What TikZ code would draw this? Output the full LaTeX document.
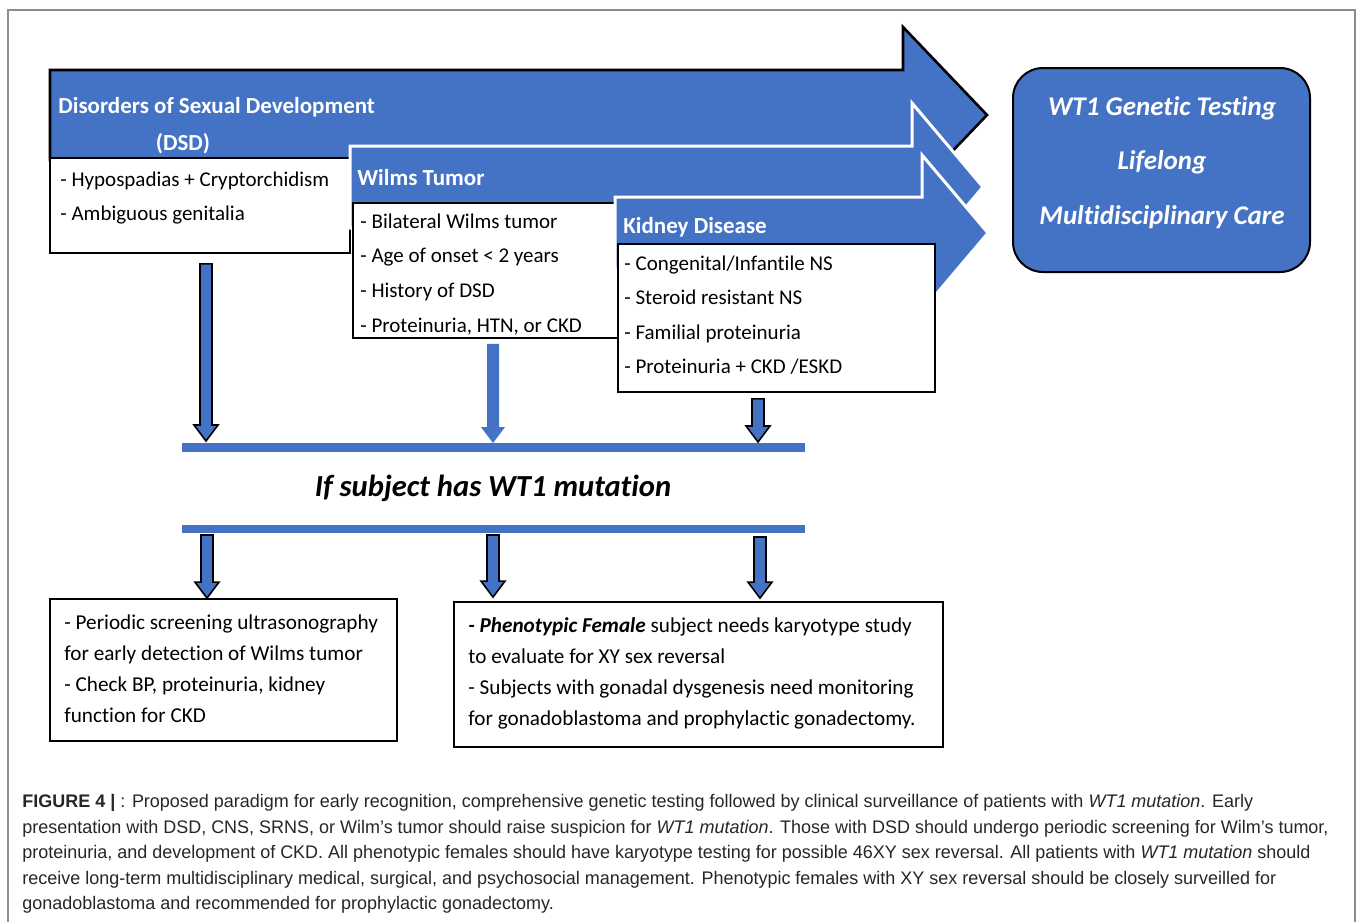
\documentclass[tikz,border=0pt]{standalone}
\usepackage{fontspec}
\setmainfont{Carlito}[Ligatures=NoCommon]
\newfontfamily\capfont[FakeStretch=0.988]{Liberation Sans}
\usetikzlibrary{fit,calc}

\definecolor{wtblue}{HTML}{4472C4}
\definecolor{framegray}{HTML}{8C8C8C}

\tikzset{
  bigarrow/.style={fill=wtblue, line width=1.3pt, line join=miter},
  headtxt/.style={text=white, font=\fontsize{11.5}{13}\selectfont\bfseries, inner sep=0pt},
  listbox/.style={draw=black, fill=white, line width=0.9pt, inner sep=0pt},
  item/.style={font=\fontsize{10.5}{12}\selectfont, inner sep=0pt, anchor=base west},
  lowitem/.style={item, font=\fontsize{10.6}{12}\selectfont},
  goalbox/.style={draw=black, fill=wtblue, line width=1pt, rounded corners=15pt, inner sep=0pt},
  goaltxt/.style={text=white, font=\fontsize{13.5}{15}\selectfont\bfseries\itshape, inner sep=0pt, anchor=base},
  bar/.style={draw=wtblue, line width=4.3pt},
  captxt/.style={font=\capfont\fontsize{9.1}{11}\selectfont, text=black!85, inner sep=0pt, anchor=base west}
}

% block arrow pointing down, from #2 to #3
\newcommand\downblock[3][]{%
  \draw[fill=wtblue, line width=0.8pt, line join=miter, #1]
    ([xshift=-3pt]#2) -- ([xshift=3pt]#2) -- ([xshift=3pt,yshift=8pt]#3)
    -- ([xshift=6pt,yshift=8pt]#3) -- (#3) -- ([xshift=-6pt,yshift=8pt]#3)
    -- ([xshift=-3pt,yshift=8pt]#3) -- cycle;}

\begin{document}
\begin{tikzpicture}[x=0.5pt, y=-0.5pt]
  \useasboundingbox (0,0) rectangle (1360,922);
  \draw[framegray, line width=0.8pt] (8,922) -- (8,10) -- (1355,10) -- (1355,922);

  % DSD arrow
  \draw[bigarrow, draw=black] (50,160) -- (50,70) -- (903,70) -- (903,27) -- (987,115)
    -- (903,203) -- (903,160) -- cycle;
  \node[headtxt, anchor=base west] (dsdhead) at (58,113) {Disorders of Sexual Development};
  \node[headtxt, anchor=base] (dsdabbr) at (183,150) {(DSD)};
  \node[listbox, fit={(50,158) (350,253)}] (dsdbox) {};
  \foreach \txt [count=\i] in {{- Hypospadias + Cryptorchidism}, {- Ambiguous genitalia}}
    \node[item] (dsd\i) at (60,{152+34*\i}) {\txt};

  % Wilms arrow
  \draw[bigarrow, draw=white, line width=1.5pt] (350,228) -- (350,146) -- (912,146) -- (912,103)
    -- (983,187) -- (912,271) -- (912,228) -- cycle;
  \node[headtxt, anchor=base west] (wthead) at (357,185) {Wilms Tumor};
  \node[listbox, fit={(353,203) (618,338)}] (wtbox) {};
  \foreach \txt [count=\i] in {{- Bilateral Wilms tumor}, {- Age of onset < 2 years},
      {- History of DSD}, {- Proteinuria, HTN, or CKD}}
    \node[item] (wt\i) at (360,{193.5+34.7*\i}) {\txt};

  % kidney arrow
  \draw[bigarrow, draw=white, line width=1.5pt] (615,269) -- (615,197) -- (922,197) -- (922,155)
    -- (988,233) -- (922,311) -- (922,269) -- cycle;
  \node[headtxt, anchor=base west] (kdhead) at (623,233) {Kidney Disease};
  \node[listbox, fit={(618,244) (935,392)}] (kdbox) {};
  \foreach \txt [count=\i] in {{- Congenital/Infantile NS}, {- Steroid resistant NS},
      {- Familial proteinuria}, {- Proteinuria + CKD /ESKD}}
    \node[item] (kd\i) at (624,{235.5+34.6*\i}) {\txt};

  % goal
  \node[goalbox, fit={(1013,68) (1310,272)}] (goal) {};
  \node[goaltxt] (goal1) at (1162,115) {WT1 Genetic Testing};
  \node[goaltxt] (goal2) at (1162,169) {Lifelong};
  \node[goaltxt] (goal3) at (1162,224) {Multidisciplinary Care};

  % bars and condition
  \coordinate (bar1w) at (182,447.5);
  \coordinate (bar1e) at (805,447.5);
  \coordinate (bar2w) at (182,529);
  \coordinate (bar2e) at (805,529);
  \draw[bar] (bar1w) -- (bar1e);
  \draw[bar] (bar2w) -- (bar2e);
  \node[font=\fontsize{15.3}{17}\selectfont\bfseries\itshape, inner sep=0pt] (cond) at (493,488)
    {If subject has WT1 mutation};

  % lower boxes
  \node[listbox, fit={(50,599) (397,741)}] (pcbox) {};
  \foreach \txt [count=\i] in {{- Periodic screening ultrasonography}, {for early detection of Wilms tumor},
      {- Check BP, proteinuria, kidney}, {function for CKD}}
    \node[lowitem] (pc\i) at (64,{597.7+31.3*\i}) {\txt};
  \node[listbox, fit={(454,602) (943,747)}] (mfbox) {};
  \foreach \txt [count=\i] in {{\textbf{\textit{- Phenotypic Female}} subject needs karyotype study},
      {to evaluate for XY sex reversal}, {- Subjects with gonadal dysgenesis need monitoring},
      {for gonadoblastoma and prophylactic gonadectomy.}}
    \node[lowitem] (mf\i) at (468,{600.7+31.3*\i}) {\txt};

  % down arrows
  \coordinate (d1e) at (206,441);
  \coordinate (d1s) at ($(dsdbox.south -| d1e)+(0,10)$);
  \coordinate (d2e) at (493,443);
  \coordinate (d2s) at ($(wtbox.south -| d2e)+(0,5)$);
  \coordinate (d3e) at (758,442);
  \coordinate (d3s) at ($(kdbox.south -| d3e)+(0,6)$);
  \downblock{d1s}{d1e}
  \downblock[draw=none]{d2s}{d2e}
  \downblock{d3s}{d3e}
  \coordinate (d4s) at (207,535);
  \coordinate (d4e) at (pcbox.north -| d4s);
  \coordinate (d5s) at (493,535);
  \coordinate (d5e) at ($(mfbox.north -| d5s)+(0,-4)$);
  \coordinate (d6s) at (760,537);
  \coordinate (d6e) at ($(mfbox.north -| d6s)+(0,-3)$);
  \downblock{d4s}{d4e}
  \downblock{d5s}{d5e}
  \downblock{d6s}{d6e}

  % caption
  \node[captxt] (cap1) at (22,807.5) {\textbf{FIGURE 4 |} : Proposed paradigm for early recognition, comprehensive genetic testing followed by clinical surveillance of patients with \textit{WT1 mutation}. Early};
  \node[captxt] (cap2) at (22,833.5) {presentation with DSD, CNS, SRNS, or Wilm’s tumor should raise suspicion for \textit{WT1 mutation}. Those with DSD should undergo periodic screening for Wilm’s tumor,};
  \node[captxt] (cap3) at (22,858.5) {proteinuria, and development of CKD. All phenotypic females should have karyotype testing for possible 46XY sex reversal. All patients with \textit{WT1 mutation} should};
  \node[captxt] (cap4) at (22,884.5) {receive long-term multidisciplinary medical, surgical, and psychosocial management. Phenotypic females with XY sex reversal should be closely surveilled for};
  \node[captxt] (cap5) at (22,909.5) {gonadoblastoma and recommended for prophylactic gonadectomy.};
\end{tikzpicture}
\end{document}
